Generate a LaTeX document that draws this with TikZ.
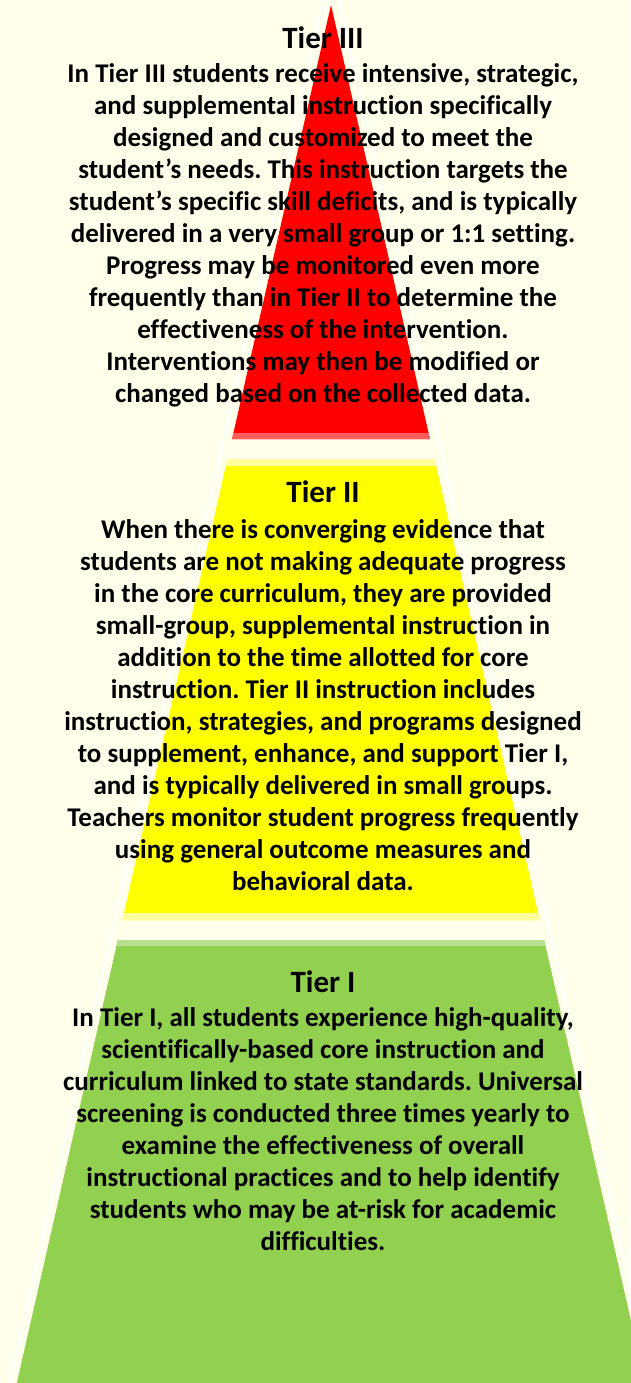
\documentclass[tikz,border=0pt]{standalone}
\usepackage{fontspec}
\setmainfont{Carlito}[RawFeature={-liga}]
\frenchspacing
\definecolor{bgcream}{HTML}{FFFFEB}
\definecolor{tiered}{HTML}{FF0000}
\definecolor{tieredlite}{HTML}{FF5C5C}
\definecolor{tieryel}{HTML}{FFFF00}
\definecolor{tieryellite}{HTML}{FFFF9E}
\definecolor{tiergrn}{HTML}{92D050}
\definecolor{tiergrnlite}{HTML}{B7DF92}
\tikzset{
  declare function={hw(\y)=0.228*(\y-5);},
  titletext/.style={anchor=base, inner sep=0pt, font=\bfseries\fontsize{31}{36}\selectfont},
  bodytext/.style={anchor=base, inner sep=0pt},
  glowline/.style={white, line width=2.5pt, opacity=0.7},
}
\newcommand{\tierbody}[1]{\parbox[t]{620pt}{\centering\bfseries\fontsize{27}{32}\selectfont #1}}
\begin{document}
\begin{tikzpicture}[x=1pt,y=-1pt]
\fill[bgcream] (0,0) rectangle (630,1383);
\useasboundingbox (0,0) rectangle (630,1383);
% glow lines
\draw[glowline] ({331-hw(0)-9},0) -- ({331-hw(1383)-7},1383);
\draw[glowline] ({331+hw(0)+9},0) -- ({331+hw(1383)+7},1383);
% red
\fill[tiered] (331,5) -- ({331+hw(439)},439) -- ({331-hw(439)},439) -- cycle;
\fill[tieredlite] ({331-hw(433)},433) -- ({331+hw(433)},433) -- ({331+hw(439)},439) -- ({331-hw(439)},439) -- cycle;
% yellow
\fill[tieryel] ({331-hw(459)},459) -- ({331+hw(459)},459) -- ({331+hw(920)},920) -- ({331-hw(920)},920) -- cycle;
\fill[tieryellite] ({331-hw(459)},459) -- ({331+hw(459)},459) -- ({331+hw(466)},466) -- ({331-hw(466)},466) -- cycle;
\fill[tieryellite] ({331-hw(913)},913) -- ({331+hw(913)},913) -- ({331+hw(920)},920) -- ({331-hw(920)},920) -- cycle;
% green
\fill[tiergrn] ({331-hw(940)},940) -- ({331+hw(940)},940) -- ({331+hw(1383)},1383) -- ({331-hw(1383)},1383) -- cycle;
\fill[tiergrnlite] ({331-hw(940)},940) -- ({331+hw(940)},940) -- ({331+hw(946)},946) -- ({331-hw(946)},946) -- cycle;
% texts
\node[titletext] (t3title) at (323,49) {Tier III};
\node[bodytext] (t3body) at (323,83) {\tierbody{In Tier III students receive intensive, strategic,\\
and supplemental instruction specifically\\
designed and customized to meet the\\
student’s needs. This instruction targets the\\
student’s specific skill deficits, and is typically\\
delivered in a very small group or 1:1 setting.\\
Progress may be monitored even more\\
frequently than in Tier II to determine the\\
effectiveness of the intervention.\\
Interventions may then be modified or\\
changed based on the collected data.}};
\node[titletext] (t2title) at (323,502) {Tier II};
\node[bodytext] (t2body) at (323,538) {\tierbody{When there is converging evidence that\\
students are not making adequate progress\\
in the core curriculum, they are provided\\
small-group, supplemental instruction in\\
addition to the time allotted for core\\
instruction. Tier II instruction includes\\
instruction, strategies, and programs designed\\
to supplement, enhance, and support Tier I,\\
and is typically delivered in small groups.\\
Teachers monitor student progress frequently\\
using general outcome measures and\\
behavioral data.}};
\node[titletext] (t1title) at (323,992) {Tier I};
\node[bodytext] (t1body) at (323,1026) {\tierbody{In Tier I, all students experience high-quality,\\
scientifically-based core instruction and\\
curriculum linked to state standards. Universal\\
screening is conducted three times yearly to\\
examine the effectiveness of overall\\
instructional practices and to help identify\\
students who may be at-risk for academic\\
difficulties.}};
\end{tikzpicture}
\end{document}
